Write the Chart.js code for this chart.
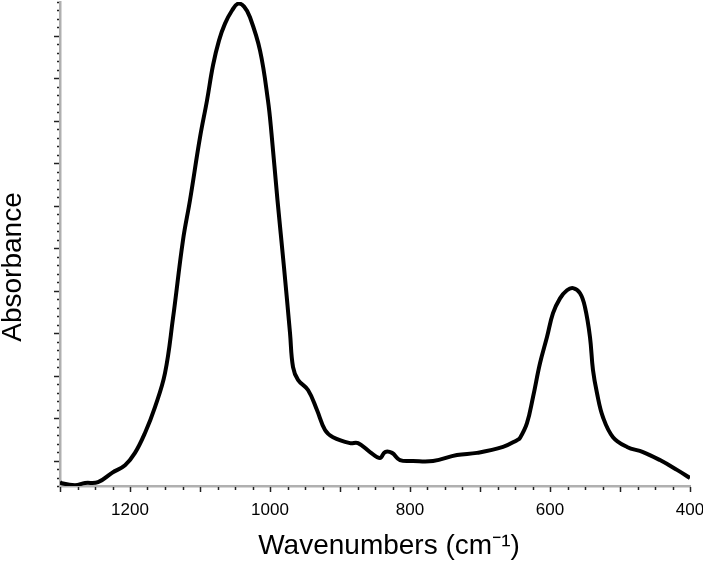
<!DOCTYPE html>
<html>
<head>
<meta charset="utf-8">
<script src="https://cdn.jsdelivr.net/npm/chart.js@4.4.1/dist/chart.umd.min.js"></script>
<style>
  html, body { margin: 0; padding: 0; background: #fff; }
  #wrap { width: 703px; height: 561px; position: relative; }
</style>
</head>
<body>
<div id="wrap"><canvas id="c" width="703" height="561"></canvas></div>
<script>
// Spectrum
const wavenumbers = [1300, 1298.6, 1278.6, 1264.3, 1245.7, 1225.7, 1207.1, 1192.9, 1178.6, 1164.3, 1150, 1138.6, 1124.3, 1114.3, 1100, 1090, 1081.4, 1072.9, 1064.3, 1054.3, 1045.7, 1037, 1028.6, 1014.3, 1002.9, 997.9, 989.3, 980, 971.4, 967.1, 960, 945.7, 932.9, 921.4, 910, 885.7, 874.3, 857.1, 842.9, 835.7, 825.7, 814.3, 795.7, 767.1, 732.9, 704.3, 667.1, 647.1, 642.9, 632.9, 624.3, 614.3, 604.3, 595.7, 585.7, 575.7, 567.1, 557.1, 550, 542.9, 538.6, 532.9, 524.3, 510, 490, 467.1, 442.9, 418.6, 400];
const absorbance = [-0.50, -0.53, -0.58, -0.53, -0.51, -0.29, -0.11, 0.18, 0.65, 1.26, 2.06, 3.35, 5.19, 6.13, 7.61, 8.48, 9.31, 9.89, 10.29, 10.60, 10.76, 10.69, 10.44, 9.66, 8.48, 7.71, 6.13, 4.55, 3.00, 2.20, 1.90, 1.66, 1.19, 0.72, 0.55, 0.41, 0.41, 0.20, 0.06, 0.20, 0.18, 0.01, -0.01, -0.01, 0.13, 0.18, 0.32, 0.48, 0.53, 0.88, 1.49, 2.29, 2.91, 3.47, 3.82, 4.01, 4.06, 3.94, 3.61, 2.91, 2.13, 1.59, 1.02, 0.55, 0.32, 0.20, 0.01, -0.22, -0.41];
const xTickLabels = [1200, 1000, 800, 600, 400];
const yTitle = 'Absorbance';
const xTitle = 'Wavenumbers (cm⁻¹)';

const points = wavenumbers.map((w, i) => ({ x: w, y: absorbance[i] }));
const FONT = "'Liberation Sans', Arial, sans-serif";

const tickPlugin = {
  id: 'tickMarks',
  afterDraw(chart) {
    const ctx = chart.ctx;
    const xs = chart.scales.x, ys = chart.scales.y;
    ctx.save();
    ctx.strokeStyle = '#222';
    ctx.lineWidth = 1.5;
    xs.ticks.forEach(t => {
      const px = Math.round(xs.getPixelForValue(t.value)) + 0.5;
      const major = Math.abs(t.value % 100) < 1e-6;
      ctx.beginPath();
      ctx.moveTo(px, xs.top + 1);
      ctx.lineTo(px, xs.top + (major ? 6 : 4));
      ctx.stroke();
    });
    ys.ticks.forEach(t => {
      const py = Math.round(ys.getPixelForValue(t.value)) + 0.5;
      const major = Math.abs(t.value - Math.round(t.value)) < 1e-6;
      ctx.beginPath();
      ctx.moveTo(ys.right - 1, py);
      ctx.lineTo(ys.right - (major ? 6 : 3), py);
      ctx.stroke();
    });
    const ca = chart.chartArea;
    ctx.fillStyle = '#000';
    ctx.font = '28px ' + FONT;
    ctx.textAlign = 'center';
    ctx.textBaseline = 'alphabetic';
    ctx.fillText(xTitle, (ca.left + ca.right) / 2 + 14, 554);
    ctx.textBaseline = 'middle';
    ctx.translate(13, (ca.top + ca.bottom) / 2 + 23);
    ctx.rotate(-Math.PI / 2);
    ctx.fillText(yTitle, 0, 0);
    ctx.restore();
  }
};

new Chart(document.getElementById('c'), {
  type: 'line',
  data: {
    datasets: [{
      data: points,
      borderColor: '#000',
      borderWidth: 4,
      pointRadius: 0,
      tension: 0.4,
      fill: false
    }]
  },
  options: {
    responsive: false,
    animation: false,
    layout: { padding: { top: 2, right: 0, left: 0, bottom: 0 } },
    plugins: { legend: { display: false }, tooltip: { enabled: false } },
    scales: {
      x: {
        type: 'linear',
        min: 400,
        max: 1300,
        reverse: true,
        afterFit(s) { s.height = 75; s.paddingRight = 13; s.paddingLeft = 0; },
        grid: { display: false, drawTicks: false },
        border: { display: true, color: '#b0b0b0', width: 2.5 },
        ticks: {
          stepSize: 25,
          maxTicksLimit: 100,
          autoSkip: false,
          maxRotation: 0,
          padding: 14,
          color: '#000',
          font: { family: FONT, size: 17 },
          callback: v => xTickLabels.includes(v) ? String(v) : ''
        },
        title: { display: false }
      },
      y: {
        type: 'linear',
        min: -0.6,
        max: 10.8,
        afterFit(s) { s.width = 60; },
        grid: { display: false, drawTicks: false },
        border: { display: true, color: '#b0b0b0', width: 2.5 },
        ticks: {
          stepSize: 0.2,
          maxTicksLimit: 100,
          display: false
        },
        title: { display: false }
      }
    }
  },
  plugins: [tickPlugin]
});
</script>
</body>
</html>
